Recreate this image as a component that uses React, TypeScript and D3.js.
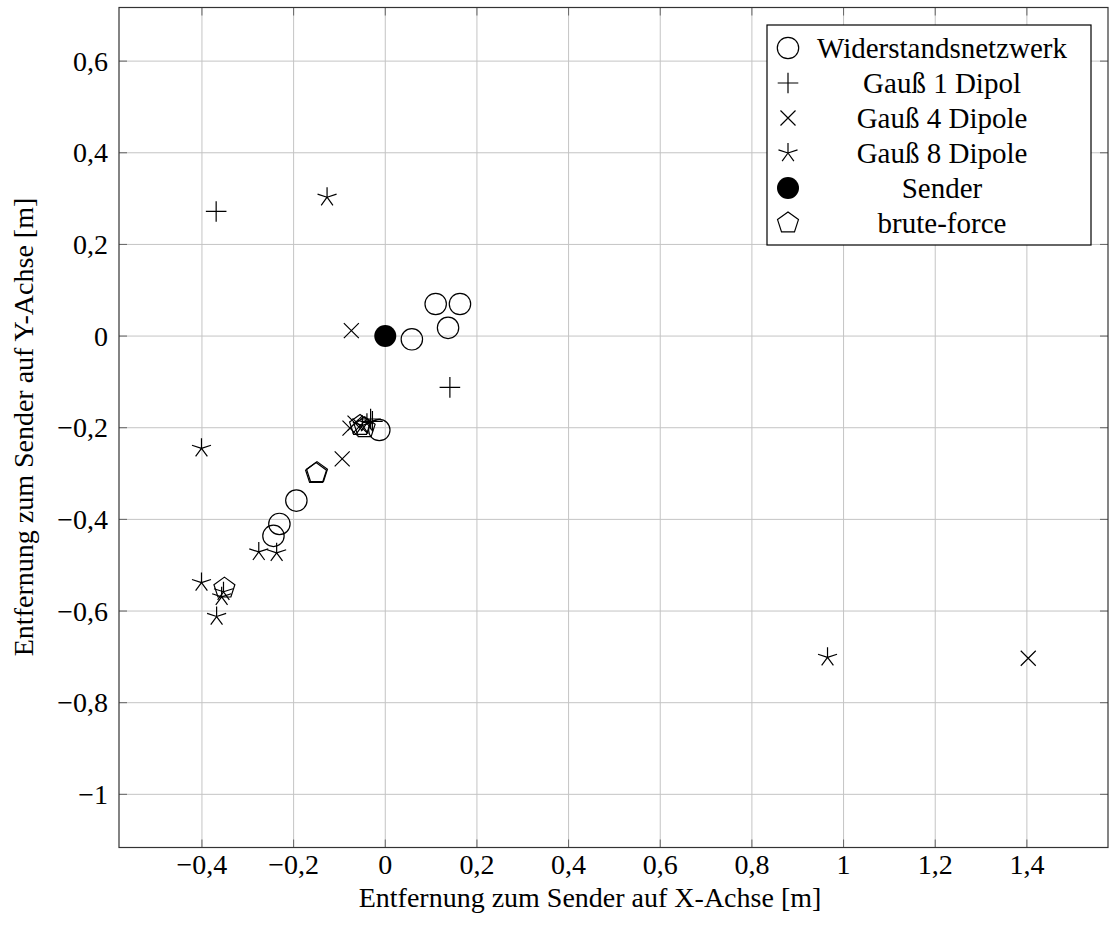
import React from "react";
import * as d3 from "d3";

// Werte [x, y] in m
const widerstand = [
  [0.11, 0.07], [0.163, 0.07], [0.137, 0.018], [0.058, -0.007],
  [-0.013, -0.205], [-0.194, -0.359], [-0.231, -0.41], [-0.244, -0.436],
];
const gauss1 = [[-0.369, 0.272], [0.141, -0.112], [-0.032, -0.181], [-0.028, -0.186]];
const gauss4 = [
  [-0.074, 0.012], [1.403, -0.703], [-0.094, -0.268],
  [-0.077, -0.201], [-0.066, -0.19], [-0.055, -0.196],
];
const gauss8 = [
  [-0.127, 0.303], [-0.401, -0.245], [-0.276, -0.471], [-0.237, -0.473],
  [-0.401, -0.538], [-0.368, -0.612], [-0.353, -0.558], [-0.357, -0.569],
  [0.965, -0.701], [-0.05, -0.195], [-0.04, -0.19],
];
const sender = [[0, 0]];
const bruteForce = [[-0.151, -0.3], [-0.149, -0.298], [-0.351, -0.55], [-0.055, -0.195], [-0.045, -0.2]];

const xTicks = [-0.4, -0.2, 0, 0.2, 0.4, 0.6, 0.8, 1, 1.2, 1.4];
const yTicks = [-1, -0.8, -0.6, -0.4, -0.2, 0, 0.2, 0.4, 0.6];
const legendLabels = ["Widerstandsnetzwerk", "Gauß 1 Dipol", "Gauß 4 Dipole", "Gauß 8 Dipole", "Sender", "brute-force"];

const W = 1109;
const H = 928;
const FONT = "Liberation Serif, DejaVu Serif, serif";

const fmt = (v: number) => {
  if (Math.abs(v) < 1e-9) return "0";
  const s = Math.abs(+v.toFixed(1)).toString().replace(".", ",");
  return (v < 0 ? "\u2212" : "") + s;
};

const x = d3.scaleLinear().domain([-0.581, 1.577]).range([119, 1108]);
const y = d3.scaleLinear().domain([-1.116, 0.717]).range([847.5, 7.5]);

type Kind = "o" | "+" | "x" | "star" | "dot" | "pent";

function Marker({ kind, cx, cy }: { kind: Kind; cx: number; cy: number }) {
  const st = { stroke: "#000", strokeWidth: 1.2, fill: "none" };
  if (kind === "o") return <circle cx={cx} cy={cy} r={10.7} {...st} />;
  if (kind === "dot") return <circle cx={cx} cy={cy} r={11} fill="#000" />;
  if (kind === "+") {
    const r = 10.3;
    return <path d={`M${cx - r},${cy}H${cx + r}M${cx},${cy - r}V${cy + r}`} {...st} />;
  }
  if (kind === "x") {
    const r = 7.5;
    return <path d={`M${cx - r},${cy - r}L${cx + r},${cy + r}M${cx - r},${cy + r}L${cx + r},${cy - r}`} {...st} />;
  }
  if (kind === "star") {
    const r = 10;
    const d = d3.range(5).map((i) => {
      const a = -Math.PI / 2 + (i * 2 * Math.PI) / 5;
      return `M${cx},${cy}L${cx + r * Math.cos(a)},${cy + r * Math.sin(a)}`;
    }).join("");
    return <path d={d} {...st} />;
  }
  const r = 11;
  const pts = d3.range(5).map((i) => {
    const a = -Math.PI / 2 + (i * 2 * Math.PI) / 5;
    return `${cx + r * Math.cos(a)},${cy + r * Math.sin(a)}`;
  }).join(" ");
  return <polygon points={pts} {...st} />;
}

const series: { data: number[][]; kind: Kind }[] = [
  { data: widerstand, kind: "o" },
  { data: gauss1, kind: "+" },
  { data: gauss4, kind: "x" },
  { data: gauss8, kind: "star" },
  { data: sender, kind: "dot" },
  { data: bruteForce, kind: "pent" },
];

export default function App() {
  const [x0, x1] = x.range();
  const [y0, y1] = y.range();
  return (
    <div style={{ position: "absolute", left: 0, top: 0, background: "#fff" }}>
      <svg width={W} height={H} style={{ display: "block", fontFamily: FONT }}>
        <rect width={W} height={H} fill="#fff" />
        {/* grid */}
        {xTicks.map((t) => (
          <line key={"gx" + t} x1={x(t)} x2={x(t)} y1={y1} y2={y0} stroke="#c4c4c4" strokeWidth={1} />
        ))}
        {yTicks.map((t) => (
          <line key={"gy" + t} x1={x0} x2={x1} y1={y(t)} y2={y(t)} stroke="#c4c4c4" strokeWidth={1} />
        ))}
        {/* ticks inside */}
        {xTicks.map((t) => (
          <g key={"tx" + t} stroke="#666" strokeWidth={1}>
            <line x1={x(t)} x2={x(t)} y1={y0} y2={y0 - 8} />
            <line x1={x(t)} x2={x(t)} y1={y1} y2={y1 + 8} />
          </g>
        ))}
        {yTicks.map((t) => (
          <g key={"ty" + t} stroke="#666" strokeWidth={1}>
            <line x1={x0} x2={x0 + 8} y1={y(t)} y2={y(t)} />
            <line x1={x1} x2={x1 - 8} y1={y(t)} y2={y(t)} />
          </g>
        ))}
        <rect x={x0} y={y1} width={x1 - x0} height={y0 - y1} fill="none" stroke="#333" strokeWidth={1.2} />
        {/* tick labels */}
        {xTicks.map((t) => (
          <text key={"lx" + t} x={x(t)} y={874} textAnchor="middle" fontSize={28}>{fmt(t)}</text>
        ))}
        {yTicks.map((t) => (
          <text key={"ly" + t} x={108} y={y(t) + 9.5} textAnchor="end" fontSize={28}>{fmt(t)}</text>
        ))}
        {/* axis labels */}
        <text x={590} y={907} textAnchor="middle" fontSize={28}>Entfernung zum Sender auf X-Achse [m]</text>
        <text transform={`translate(33,427) rotate(-90)`} textAnchor="middle" fontSize={28}>
          Entfernung zum Sender auf Y-Achse [m]
        </text>
        {/* marks */}
        {series.map((s, si) =>
          s.data.map((d, i) => <Marker key={si + "-" + i} kind={s.kind} cx={x(d[0])} cy={y(d[1])} />)
        )}
        {/* legend */}
        <rect x={767} y={25} width={324} height={220} fill="#fff" stroke="#000" strokeWidth={1.2} />
        {series.map((s, i) => (
          <g key={"leg" + i}>
            <Marker kind={s.kind} cx={788} cy={48 + 35 * i} />
            <text x={942} y={48 + 35 * i + 9.5} textAnchor="middle" fontSize={29}>{legendLabels[i]}</text>
          </g>
        ))}
      </svg>
    </div>
  );
}
